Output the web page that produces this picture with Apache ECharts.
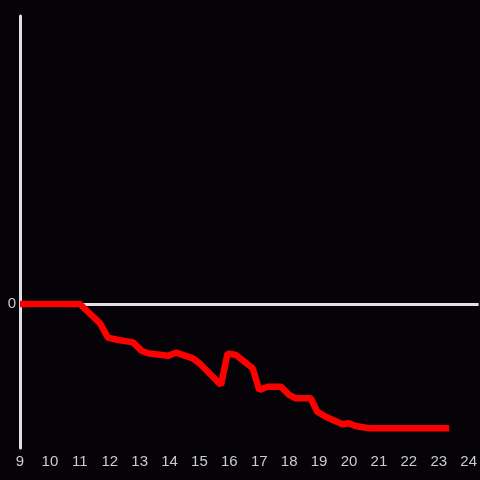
<!DOCTYPE html>
<html>
<head>
<meta charset="utf-8">
<script src="https://cdn.jsdelivr.net/npm/echarts@6/dist/echarts.min.js"></script>
<style>
html,body{margin:0;padding:0;background:#050307;}
#c{width:480px;height:480px;}
</style>
</head>
<body>
<div id="c"></div>
<script>
var hours = [9, 11, 11.67, 11.94, 12.28, 12.78, 13.06, 13.28, 13.94, 14.22, 14.78, 15.0, 15.72, 15.94, 16.22, 16.78, 17.0, 17.28, 17.72, 18.0, 18.22, 18.72, 18.94, 19.22, 19.78, 20.0, 20.22, 20.67, 23.35];
var values = [0, 0, -0.20, -0.35, -0.375, -0.40, -0.486, -0.514, -0.54, -0.507, -0.566, -0.618, -0.844, -0.514, -0.531, -0.67, -0.896, -0.861, -0.861, -0.948, -0.982, -0.982, -1.122, -1.174, -1.253, -1.243, -1.271, -1.295, -1.295];
var xTickLabels = ['9','10','11','12','13','14','15','16','17','18','19','20','21','22','23','24'];
var yTickLabels = ['0'];

var data = hours.map(function (h, i) { return [h, values[i]]; });
var chart = echarts.init(document.getElementById('c'), null, {renderer: 'canvas'});
chart.setOption({
  backgroundColor: '#050307',
  animation: false,
  grid: {left: 20, right: 0, top: 16, bottom: 32, containLabel: false},
  xAxis: {
    type: 'value', min: 9, max: 24.3333, interval: 1,
    axisLine: {show: false}, axisTick: {show: false}, splitLine: {show: false},
    axisLabel: {
      color: '#cccccc', fontSize: 15, margin: 6, showMaxLabel: false,
      formatter: function (v) {
        var s = String(Math.round(v));
        return (Math.abs(v - Math.round(v)) < 1e-6 && xTickLabels.indexOf(s) >= 0) ? s : '';
      }
    }
  },
  yAxis: {
    type: 'value', min: -1.5, max: 3, interval: 1.5,
    axisLine: {show: true, lineStyle: {color: '#e0e0e0', width: 3}},
    axisTick: {show: false}, splitLine: {show: false},
    axisLabel: {
      color: '#cccccc', fontSize: 15, margin: 4,
      formatter: function (v) {
        var s = String(v);
        return yTickLabels.indexOf(s) >= 0 ? s : '';
      }
    }
  },
  series: [
    {
      type: 'line', data: [], z: 1, silent: true,
      markLine: {
        symbol: 'none', silent: true, label: {show: false},
        lineStyle: {color: '#e0e0e0', width: 3, type: 'solid'},
        data: [{yAxis: 0}]
      }
    },
    {
      type: 'line', data: data, z: 5, showSymbol: false, symbol: 'none',
      lineStyle: {color: '#ff0000', width: 6.5}
    }
  ]
});
</script>
</body>
</html>
